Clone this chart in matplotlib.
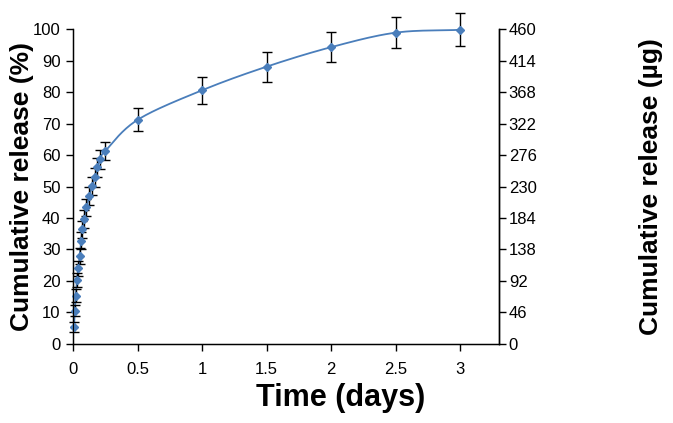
import numpy as np
import matplotlib
matplotlib.use('Agg')
import matplotlib.pyplot as plt

plt.rcParams['font.family'] = ['Liberation Sans', 'DejaVu Sans']

# Release data (time in days, cumulative release %, error)
time_days = [0.007, 0.014, 0.021, 0.031, 0.042, 0.052, 0.063, 0.073, 0.083,
             0.104, 0.125, 0.146, 0.167, 0.188, 0.208, 0.25,
             0.5, 1.0, 1.5, 2.0, 2.5, 3.0]
release_pct = [5.3, 10.6, 15.3, 20.4, 24.0, 28.0, 32.8, 36.5, 39.7,
               43.4, 46.9, 50.1, 52.9, 56.1, 58.7, 61.3,
               71.2, 80.6, 88.1, 94.3, 98.9, 99.8]
release_err = [1.5, 1.8, 2.0, 2.2, 2.4, 2.5, 2.6, 2.7, 2.8,
               2.8, 2.8, 2.9, 2.9, 3.0, 3.0, 3.0,
               3.6, 4.3, 4.8, 4.8, 5.0, 5.2]

x_ticks = [0, 0.5, 1, 1.5, 2, 2.5, 3]
left_ticks = list(range(0, 101, 10))
right_ticks = list(range(0, 461, 46))

blue = '#4a7ebb'


def smooth_curve(xs, ys, n=20):
    # Catmull-Rom style smoothing, similar to a spreadsheet "smoothed line"
    xs = np.asarray(xs, float)
    ys = np.asarray(ys, float)
    px = np.concatenate([[2 * xs[0] - xs[1]], xs, [2 * xs[-1] - xs[-2]]])
    py = np.concatenate([[2 * ys[0] - ys[1]], ys, [2 * ys[-1] - ys[-2]]])
    out_x, out_y = [], []
    t = np.linspace(0, 1, n)
    for i in range(1, len(px) - 2):
        p0x, p1x, p2x, p3x = px[i - 1:i + 3]
        p0y, p1y, p2y, p3y = py[i - 1:i + 3]
        cx = 0.5 * ((2 * p1x) + (-p0x + p2x) * t + (2 * p0x - 5 * p1x + 4 * p2x - p3x) * t ** 2
                    + (-p0x + 3 * p1x - 3 * p2x + p3x) * t ** 3)
        cy = 0.5 * ((2 * p1y) + (-p0y + p2y) * t + (2 * p0y - 5 * p1y + 4 * p2y - p3y) * t ** 2
                    + (-p0y + 3 * p1y - 3 * p2y + p3y) * t ** 3)
        out_x.extend(cx)
        out_y.extend(cy)
    return np.array(out_x), np.array(out_y)


fig = plt.figure(figsize=(6.73, 4.23), dpi=100)
ax = fig.add_axes([0.1085, 0.187, 0.633, 0.744])

sx, sy = smooth_curve(time_days, release_pct)
ax.plot(sx, sy, color=blue, linewidth=1.3, zorder=2)
ax.errorbar(time_days, release_pct, yerr=release_err, fmt='none', ecolor='black',
            elinewidth=1.0, capsize=3.8, capthick=1.0, zorder=3, clip_on=False)
ax.plot(time_days, release_pct, linestyle='none', marker='D', markersize=4.5,
        color=blue, zorder=4, clip_on=False)

ax.set_xlim(0, 3.3)
ax.set_ylim(0, 100)
ax.set_xticks(x_ticks)
ax.set_xticklabels(['0', '0.5', '1', '1.5', '2', '2.5', '3'])
ax.set_yticks(left_ticks)
ax.spines['top'].set_visible(False)
for s in ['left', 'bottom', 'right']:
    ax.spines[s].set_linewidth(1.0)
ax.tick_params(axis='both', direction='out', length=5, width=1.0, labelsize=12, pad=4)
ax.tick_params(axis='x', pad=8)
ax.set_xlabel('Time (days)', fontsize=22, fontweight='bold')
ax.xaxis.set_label_coords(0.627, -0.125)
ax.set_ylabel('Cumulative release (%)', fontsize=19, fontweight='bold')
ax.yaxis.set_label_coords(-0.092, 0.5)

ax2 = ax.twinx()
ax2.set_ylim(0, 460)
ax2.set_yticks(right_ticks)
ax2.spines['top'].set_visible(False)
ax2.spines['right'].set_linewidth(1.0)
ax2.tick_params(axis='y', direction='out', length=5, width=1.0, labelsize=12, pad=2)
ax2.set_ylabel('Cumulative release (\u00b5g)', fontsize=19, fontweight='bold')
ax2.yaxis.set_label_coords(1.328, 0.5)

fig.savefig('out.png', dpi=100, facecolor='white')
